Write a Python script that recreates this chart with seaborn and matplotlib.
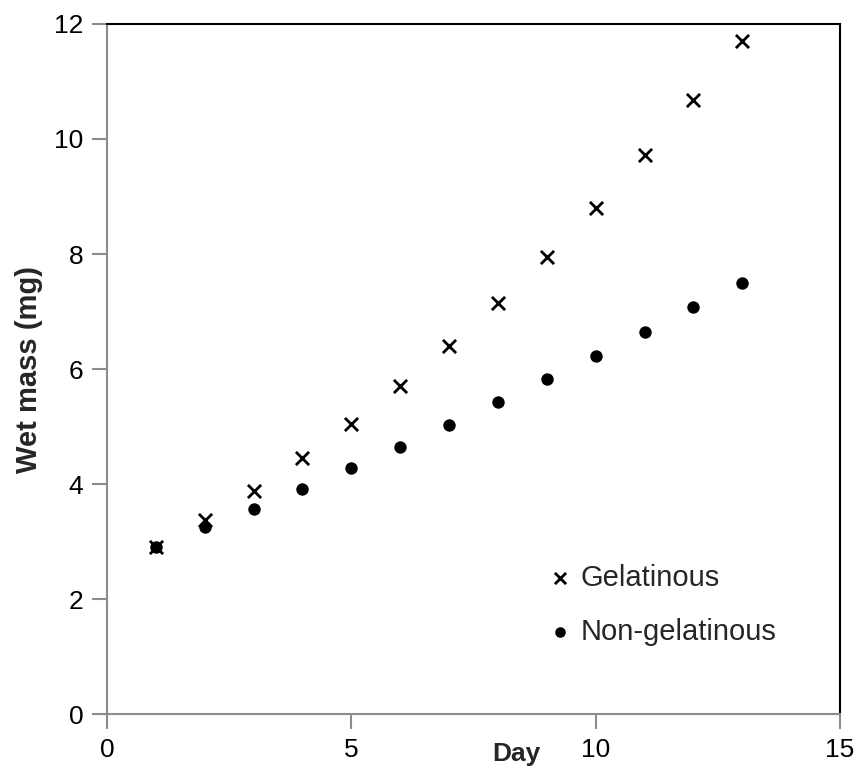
import matplotlib
matplotlib.use("Agg")
import matplotlib.pyplot as plt
import seaborn as sns
import pandas as pd

days = [1, 2, 3, 4, 5, 6, 7, 8, 9, 10, 11, 12, 13]
gelatinous = [2.9, 3.38, 3.88, 4.45, 5.05, 5.7, 6.4, 7.15, 7.95, 8.8, 9.72, 10.68, 11.7]
non_gelatinous = [2.9, 3.25, 3.57, 3.92, 4.28, 4.65, 5.03, 5.42, 5.82, 6.23, 6.65, 7.07, 7.5]
x_ticks = [0, 5, 10, 15]
y_ticks = [0, 2, 4, 6, 8, 10, 12]

sns.set_theme(style="white")
plt.rcParams['font.family'] = ['Liberation Sans', 'DejaVu Sans']

fig = plt.figure(figsize=(8.61, 7.69), dpi=100)
ax = fig.add_axes([0.1243, 0.0715, 0.8513, 0.8973])

sns.scatterplot(x=days, y=gelatinous, marker="x", color="black", s=90,
                linewidth=2.0, ax=ax, label="Gelatinous")
sns.scatterplot(x=days, y=non_gelatinous, marker="o", color="black", s=80,
                linewidth=0, ax=ax, label="Non-gelatinous")

ax.set_xlim(0, 15)
ax.set_ylim(0, 12)
ax.set_xticks(x_ticks)
ax.set_yticks(y_ticks)
ax.tick_params(axis="both", direction="out", length=11, width=1.5,
               labelsize=19, pad=6, labelcolor="black", color="#8c8c8c")
ax.tick_params(axis="x", bottom=True)
ax.tick_params(axis="y", left=True)
for side in ["left", "bottom"]:
    ax.spines[side].set_color("#8c8c8c")
    ax.spines[side].set_linewidth(1.5)
for side in ["top", "right"]:
    ax.spines[side].set_color("black")
    ax.spines[side].set_linewidth(1.5)

ax.set_xlabel("Day", fontsize=19, fontweight="bold")
ax.xaxis.set_label_coords(0.559, -0.041)
ax.set_ylabel("Wet mass (mg)", fontsize=21, fontweight="bold")
ax.yaxis.set_label_coords(-0.088, 0.5)

leg = ax.legend(loc="center left", bbox_to_anchor=(0.562, 0.158), frameon=False,
                fontsize=21, handlelength=1.0, handletextpad=0.2,
                labelspacing=0.9, markerscale=0.85, borderpad=0.4)

fig.savefig("out.png", dpi=100)
